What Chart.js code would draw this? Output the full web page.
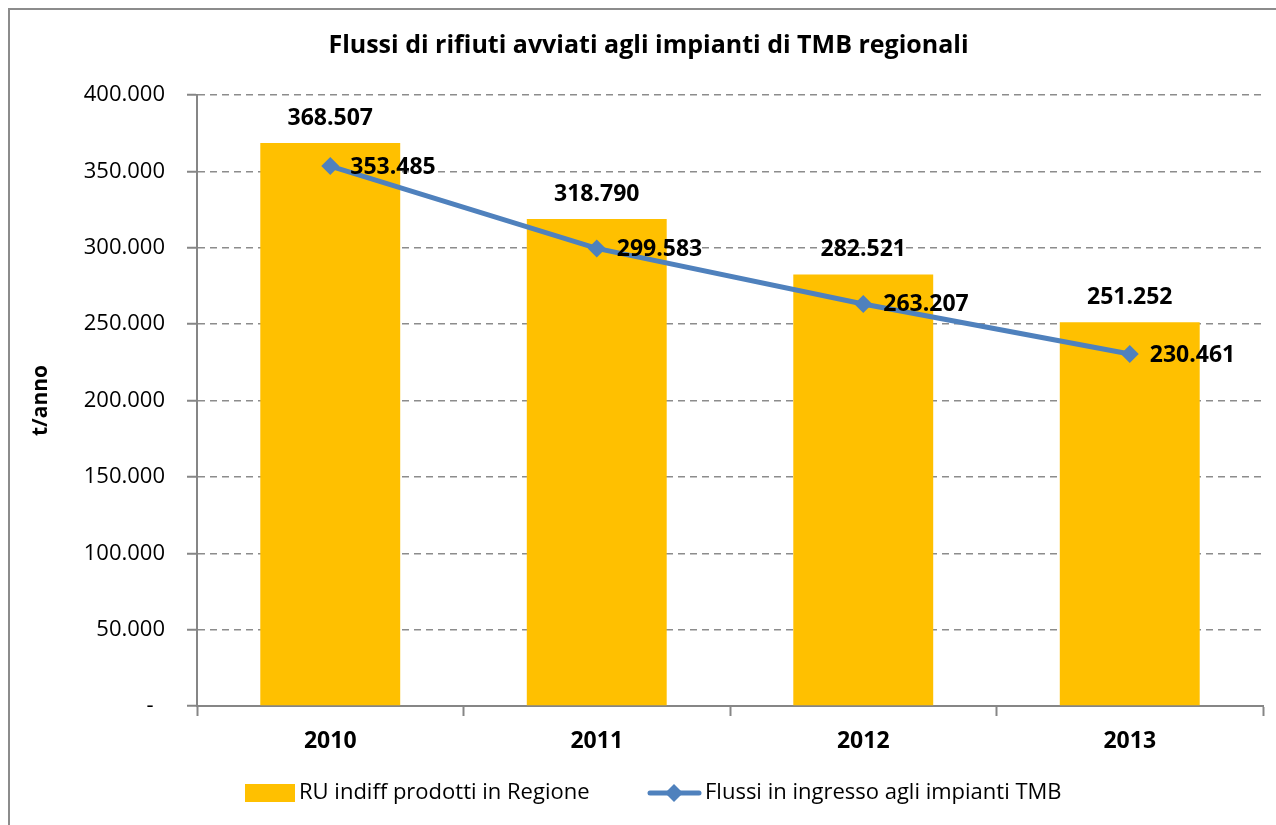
<!DOCTYPE html>
<html>
<head>
<meta charset="utf-8">
<script src="https://cdn.jsdelivr.net/npm/chart.js@4/dist/chart.umd.min.js"></script>
<style>
    html, body { margin: 0; padding: 0; background: #fff; overflow: hidden; }
    #frame { position: absolute; left: 8px; top: 8px; width: 1300px; height: 840px; border: 2px solid #8c8c8c; }
    #myChart { position: absolute; left: 0; top: 0; }
</style>
</head>
<body>
<div id="frame"></div>
<canvas id="myChart" width="1276" height="825"></canvas>
<script>
const titolo = "Flussi di rifiuti avviati agli impianti di TMB regionali";
const anni = ["2010", "2011", "2012", "2013"];
const ruIndiff = [368507, 318790, 282521, 251252];
const flussiTmb = [353485, 299583, 263207, 230461];
const nomiSerie = ["RU indiff prodotti in Regione", "Flussi in ingresso agli impianti TMB"];
const asseY = "t/anno";

const FONT = "'Open Sans', sans-serif";
const ARANCIO = "#FFC000";
const BLU = "#4F81BD";

// formato italiano: 368507 -> 368.507
function formatta(v) {
    if (v === 0) return "-  ";
    return v.toString().replace(/\B(?=(\d{3})+(?!\d))/g, ".");
}

// etichette dei valori (sopra le barre, a destra dei punti)
const etichette = {
    id: "etichette",
    afterDatasetsDraw(chart) {
        const ctx = chart.ctx;
        ctx.save();
        ctx.font = "bold 23px " + FONT;
        ctx.fillStyle = "#000";
        ctx.textBaseline = "middle";
        chart.data.datasets.forEach((ds, i) => {
            const meta = chart.getDatasetMeta(i);
            meta.data.forEach((el, j) => {
                const testo = formatta(ds.data[j]);
                if (ds.type === "bar") {
                    ctx.textAlign = "center";
                    ctx.fillText(testo, el.x, el.y - 25);
                } else {
                    ctx.textAlign = "left";
                    ctx.fillText(testo, el.x + 20, el.y + 1);
                }
            });
        });
        ctx.restore();
    },
};

// legenda in basso, disegnata a mano
const legenda = {
    id: "legenda",
    afterDraw(chart) {
        const ctx = chart.ctx;
        const y = 793;
        ctx.save();
        ctx.font = "22px " + FONT;
        ctx.textBaseline = "middle";
        ctx.textAlign = "left";

        ctx.fillStyle = ARANCIO;
        ctx.fillRect(245, y - 9, 50, 18);
        ctx.fillStyle = "#000";
        ctx.fillText(nomiSerie[0], 299, y);

        ctx.strokeStyle = BLU;
        ctx.lineWidth = 5;
        ctx.lineCap = "round";
        ctx.beginPath();
        ctx.moveTo(650, y);
        ctx.lineTo(699, y);
        ctx.stroke();
        ctx.fillStyle = BLU;
        ctx.beginPath();
        ctx.moveTo(674, y - 9);
        ctx.lineTo(683, y);
        ctx.lineTo(674, y + 9);
        ctx.lineTo(665, y);
        ctx.closePath();
        ctx.fill();
        ctx.fillStyle = "#000";
        ctx.fillText(nomiSerie[1], 705, y);
        ctx.restore();
    },
};

const ctx = document.getElementById("myChart");

new Chart(ctx, {
    data: {
        labels: anni,
        datasets: [
            {
                type: "line",
                label: nomiSerie[1],
                data: flussiTmb,
                borderColor: BLU,
                backgroundColor: BLU,
                borderWidth: 5,
                pointStyle: "rectRot",
                pointRadius: 9,
                pointHoverRadius: 9,
                pointBorderWidth: 0,
                tension: 0,
                order: 0,
            },
            {
                type: "bar",
                label: nomiSerie[0],
                data: ruIndiff,
                backgroundColor: ARANCIO,
                borderWidth: 0,
                categoryPercentage: 1,
                barPercentage: 0.525,
                order: 1,
            },
        ],
    },
    options: {
        responsive: false,
        animation: false,
        // padding sinistro per centrare il titolo come nell'originale
        layout: { padding: { top: 0, left: 34, right: 13, bottom: 0 } },
        plugins: {
            legend: { display: false },
            tooltip: { enabled: false },
            title: {
                display: true,
                text: titolo,
                color: "#000",
                font: { family: FONT, size: 25, weight: "bold" },
                padding: { top: 31, bottom: 34 },
            },
        },
        scales: {
            x: {
                afterFit: (s) => { s.height = 119; },
                grid: {
                    offset: true,
                    drawOnChartArea: false,
                    drawTicks: true,
                    tickLength: 10,
                    tickColor: "#868686",
                    tickWidth: 2,
                },
                border: { color: "#868686", width: 2 },
                ticks: {
                    color: "#000",
                    padding: 12,
                    font: { family: FONT, size: 23, weight: "bold" },
                },
            },
            y: {
                min: 0,
                max: 400000,
                afterFit: (s) => { s.width = 163; },
                grid: {
                    color: "#8c8c8c",
                    lineWidth: 1.5,
                    tickLength: 10,
                    tickColor: "#868686",
                    tickWidth: 2,
                },
                border: { color: "#868686", width: 2, dash: [7, 5] },
                ticks: {
                    stepSize: 50000,
                    color: "#000",
                    padding: 22,
                    font: { family: FONT, size: 22 },
                    callback: (v) => formatta(v),
                },
                title: {
                    display: true,
                    text: asseY,
                    color: "#000",
                    font: { family: FONT, size: 21, weight: "bold" },
                    padding: { top: -6, bottom: 0 },
                },
            },
        },
    },
    plugins: [etichette, legenda],
});
</script>
</body>
</html>
